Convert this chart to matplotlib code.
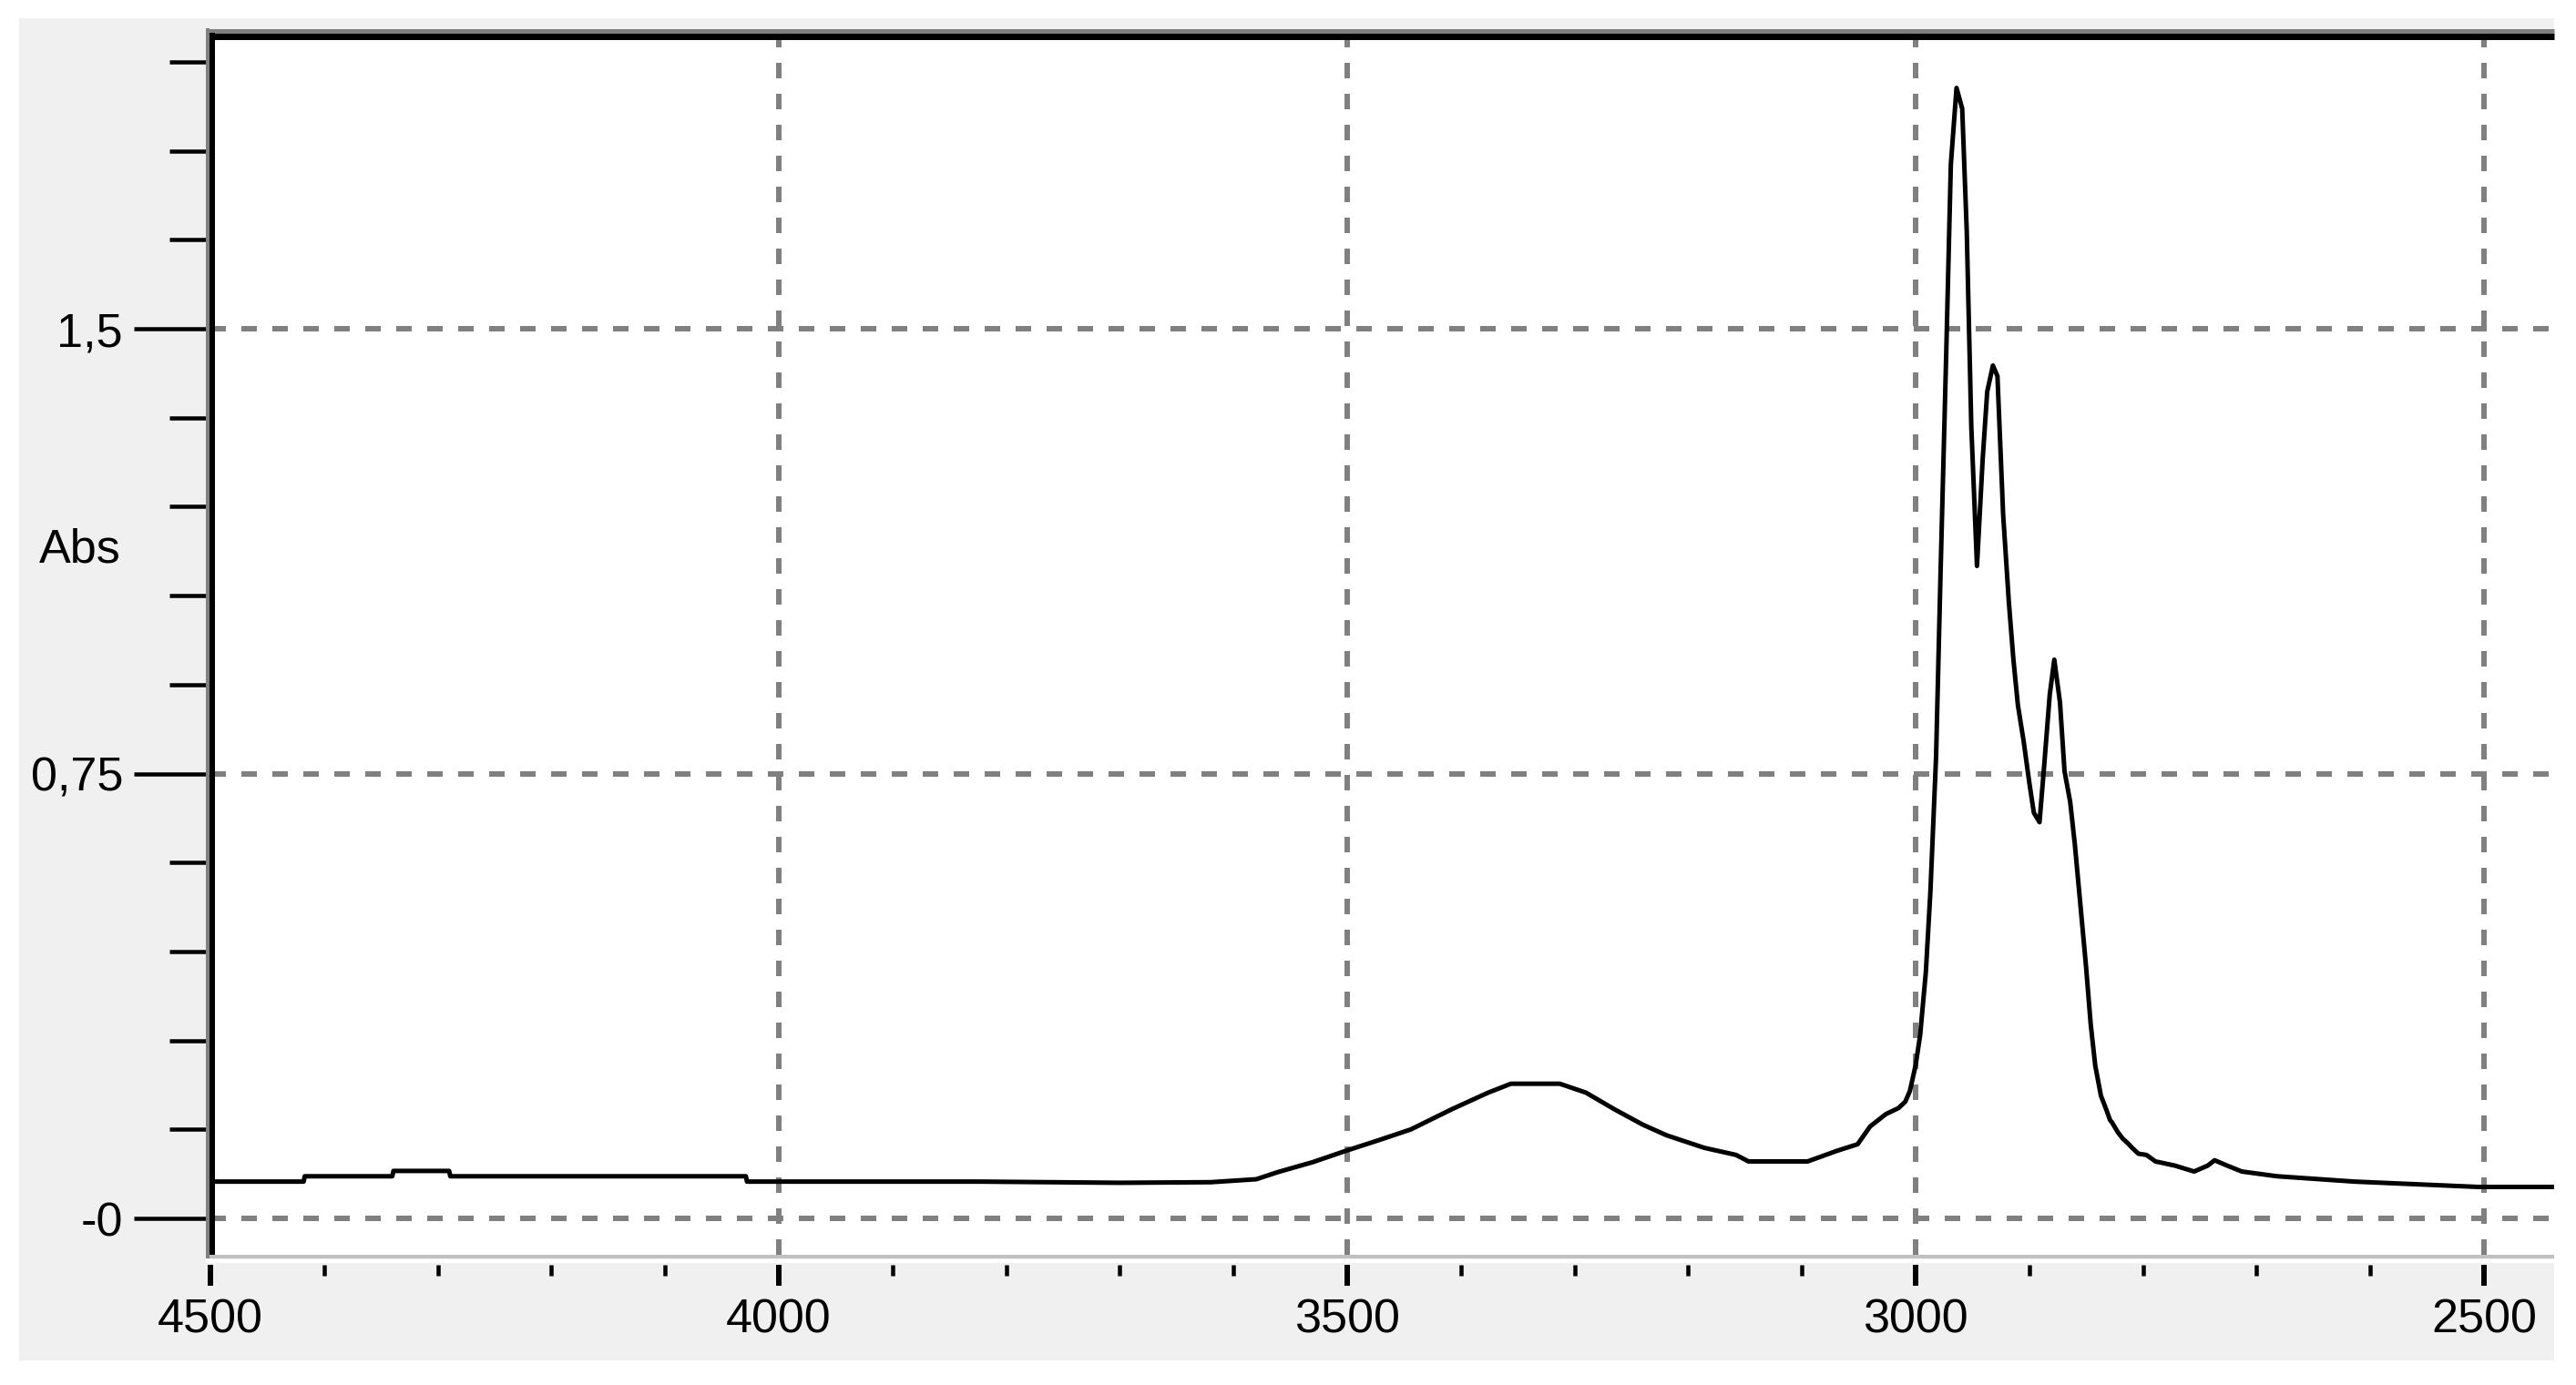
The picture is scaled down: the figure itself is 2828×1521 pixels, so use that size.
import matplotlib
matplotlib.use('Agg')
import matplotlib.pyplot as plt
from matplotlib.lines import Line2D
from matplotlib.patches import Rectangle

# ---------------- data ----------------
wavenumber = [4500, 4418, 4417, 4340, 4339, 4290, 4289, 4029, 4028, 3824, 3700, 3620,
              3580, 3561, 3530, 3501, 3472, 3444, 3408, 3376, 3356, 3313, 3290, 3265,
              3240, 3219, 3186, 3158, 3147, 3095, 3069, 3051, 3040, 3026, 3015, 3009,
              3005, 3000, 2996, 2991, 2987, 2982, 2978, 2973, 2969, 2964, 2959, 2955,
              2951, 2946, 2941, 2937, 2932, 2928, 2923, 2918, 2914, 2910, 2905, 2900,
              2896, 2891, 2887, 2882, 2878, 2873, 2869, 2864, 2860, 2855, 2850, 2846,
              2842, 2837, 2832, 2829, 2827, 2822, 2818, 2813, 2809, 2804, 2797, 2789,
              2772, 2755, 2743, 2737, 2726, 2713, 2682, 2614, 2505, 2438]
absorbance = [0.062, 0.062, 0.071, 0.071, 0.080, 0.080, 0.071, 0.071, 0.062, 0.062, 0.060, 0.061,
              0.066, 0.078, 0.095, 0.114, 0.132, 0.150, 0.184, 0.212, 0.227, 0.227, 0.212, 0.184,
              0.158, 0.140, 0.119, 0.107, 0.096, 0.096, 0.114, 0.125, 0.155, 0.176, 0.186, 0.197,
              0.215, 0.258, 0.309, 0.415, 0.550, 0.778, 1.092, 1.463, 1.777, 1.906, 1.871, 1.664,
              1.335, 1.100, 1.280, 1.394, 1.438, 1.420, 1.187, 1.040, 0.943, 0.865, 0.805, 0.735,
              0.684, 0.668, 0.761, 0.883, 0.942, 0.870, 0.754, 0.702, 0.632, 0.528, 0.423, 0.328,
              0.258, 0.207, 0.182, 0.166, 0.161, 0.145, 0.135, 0.126, 0.118, 0.109, 0.107, 0.096,
              0.089, 0.079, 0.089, 0.098, 0.089, 0.079, 0.071, 0.062, 0.053, 0.053]

x_major = [4500, 4000, 3500, 3000, 2500]
x_labels = ['4500', '4000', '3500', '3000', '2500']
x_minor = [4400, 4300, 4200, 4100, 3900, 3800, 3700, 3600, 3400, 3300, 3200, 3100,
           2900, 2800, 2700, 2600]
y_major = [0.0, 0.75, 1.5]
y_labels = ['-0', '0,75', '1,5']
y_minor = [0.15, 0.30, 0.45, 0.60, 0.90, 1.05, 1.20, 1.35, 1.65, 1.80, 1.95]
y_axis_label = 'Abs'

# ---------------- style ----------------
plt.rcParams['font.family'] = ['Liberation Sans', 'DejaVu Sans']
plt.rcParams['lines.scale_dashes'] = False

W, H, DPI = 2828, 1521, 100
PT = 72.0 / DPI  # points per pixel
FS = 37.5

fig = plt.figure(figsize=(W / DPI, H / DPI), dpi=DPI, facecolor='white')


def fx(px):
    return px / W


def fy(py):
    return 1 - py / H


# grey window panel
fig.add_artist(Rectangle((fx(21), fy(1494)), fx(2804) - fx(21), fy(20) - fy(1494),
                         transform=fig.transFigure, facecolor='#f0f0f0',
                         edgecolor='none', zorder=0))

ax = fig.add_axes([fx(231), fy(1378), fx(2804) - fx(231), fy(36) - fy(1378)])
ax.set_facecolor('white')
ax.set_xlim(4500, 2438.3)
ax.set_ylim(-0.0614, 1.999)

for s in ax.spines.values():
    s.set_visible(False)
ax.spines['bottom'].set_position(('outward', 11 * PT))

ax.set_axisbelow(True)
ax.grid(True, which='major', color='#808080', linewidth=6 * PT,
        linestyle=(0, (17 * PT, 17 * PT)))

ax.plot(wavenumber, absorbance, color='black', linewidth=5 * PT, zorder=3)

ax.set_xticks(x_major)
ax.set_xticklabels(x_labels)
ax.set_xticks(x_minor, minor=True)
ax.set_yticks(y_major)
ax.set_yticklabels(y_labels)
ax.set_yticks(y_minor, minor=True)

ax.tick_params(axis='y', which='major', direction='out', length=84 * PT,
               width=4.5 * PT, color='black', pad=12 * PT, labelsize=FS)
ax.tick_params(axis='y', which='minor', direction='out', length=45 * PT,
               width=4.5 * PT, color='black')
ax.tick_params(axis='x', which='major', direction='out', length=23 * PT,
               width=6 * PT, color='black', pad=13 * PT, labelsize=FS)
ax.tick_params(axis='x', which='minor', direction='out', length=12 * PT,
               width=4.5 * PT, color='black')


def hline(y, x0, x1, w, c):
    fig.add_artist(Line2D([fx(x0), fx(x1)], [fy(y), fy(y)], transform=fig.transFigure,
                          color=c, linewidth=w * PT, solid_capstyle='butt', zorder=10))


def vline(x, y0, y1, w, c):
    fig.add_artist(Line2D([fx(x), fx(x)], [fy(y0), fy(y1)], transform=fig.transFigure,
                          color=c, linewidth=w * PT, solid_capstyle='butt', zorder=10))


# sunken 3D frame
hline(1380, 226, 2804, 4, '#c0c0c0')
hline(1384.5, 226, 2804, 4, 'white')
hline(33.5, 226, 2804, 5, '#808080')
hline(39.5, 230, 2804, 7, 'black')
vline(228, 31, 1382, 4, '#808080')
vline(233, 36, 1378, 6, 'black')

fig.text(fx(88), fy(604), y_axis_label, ha='center', va='center', fontsize=FS)

fig.savefig('out.png', dpi=DPI, facecolor='white')
